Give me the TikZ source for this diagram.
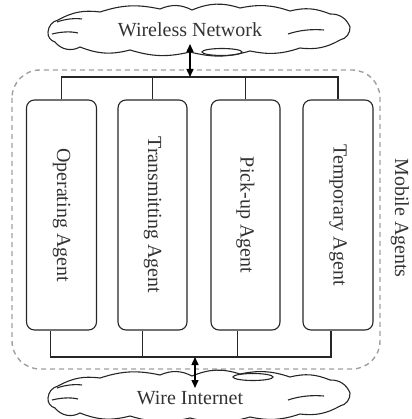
\documentclass[tikz,border=0pt]{standalone}
\usepackage{fontspec}
\setmainfont{Liberation Serif}
\usetikzlibrary{arrows.meta}
\begin{document}
\begin{tikzpicture}[x=1pt,y=-1pt,
  agent/.style={draw=black!85,line width=1.1pt,rounded corners=8pt,minimum width=70pt,minimum height=230pt,inner sep=0pt},
  lbl/.style={font=\fontsize{20}{23}\selectfont,text=black!80,inner sep=0pt},
  bus/.style={line width=1.3pt,black!85},
  cloudline/.style={line width=1.1pt,black!85},
  dbl/.style={line width=1.4pt,{Triangle[length=8pt,width=7pt]}-{Triangle[length=8pt,width=7pt]}},
  pics/netcloud/.style={code={
    \draw[cloudline] (-152,2) to[bend left=35] (-142,-10) to[bend left=18] (-100,-18)
      to[bend left=15] (-40,-21) to[bend left=25] (-8,-20) to[bend left=20] (40,-22) to[bend left=15] (90,-19)
      to[bend left=18] (130,-16) to[bend left=35] (150,-3) to[bend left=40] (140,10)
      to[bend left=18] (100,18) to[bend left=15] (50,21) to[bend left=15] (-10,22)
      to[bend left=15] (-70,20) to[bend left=18] (-120,17) to[bend left=40] (-145,12)
      to[bend left=40] cycle;
    \draw[cloudline] (-148,4) .. controls (-140,2) and (-130,1) .. (-122,3);
    \draw[cloudline] (-143,-8) .. controls (-135,-11) and (-125,-12) .. (-118,-11);
    \draw[cloudline] (88,4) .. controls (100,0) and (112,-1) .. (124,0);
  }},
]
\useasboundingbox (0,0) rectangle (411,419);
% mobile agents frame
\draw[gray!75,line width=1.4pt,dash pattern=on 5pt off 4pt,rounded corners=28pt] (12,70) rectangle (380,369);
\node[lbl,rotate=-90] (ma) at (400,218) {Mobile Agents};
% clouds
\pic at (200,30) {netcloud};
\draw[cloudline] (222,52) ellipse [x radius=20, y radius=3.5];
\node[lbl] (wn) at (190,30) {Wireless Network};
\pic at (200,396) {netcloud};
\draw[cloudline] (253,377) ellipse [x radius=20, y radius=3.5];
\node[lbl] (wi) at (190,398) {Wire Internet};
% agents
\node[agent] (b1) at (61.5,215) {};
\node[agent,minimum width=69pt] (b2) at (152.5,215) {};
\node[agent,minimum width=69pt] (b3) at (245.5,215) {};
\node[agent] (b4) at (338,215) {};
\node[lbl,rotate=-90] (t1) at (b1) {Operating Agent};
\node[lbl,rotate=-90] (t2) at (b2) {Transmitting Agent};
\node[lbl,rotate=-90] (t3) at (b3) {Pick-up Agent};
\node[lbl,rotate=-90] (t4) at (b4) {Temporary Agent};
% buses
\coordinate (tb) at (190,77);
\coordinate (bb) at (195,357);
\coordinate (wnb) at (190,44);
\coordinate (wit) at (195,388);
\draw[bus] (b1.north) -- (b1.north |- tb) -- (b4.north |- tb) -- (b4.north);
\draw[bus] (b2.north) -- (b2.north |- tb);
\draw[bus] (b3.north) -- (b3.north |- tb);
\draw[bus] ([xshift=-11pt]b1.south) -- ([xshift=-11pt]b1.south |- bb) -- ([xshift=-7pt]b4.south |- bb) -- ([xshift=-7pt]b4.south);
\draw[bus] ([xshift=-10pt]b2.south) -- ([xshift=-10pt]b2.south |- bb);
\draw[bus] ([xshift=-8pt]b3.south) -- ([xshift=-8pt]b3.south |- bb);
% arrows
\draw[dbl] (wnb) -- (tb);
\draw[dbl] (bb) -- (wit);
\end{tikzpicture}
\end{document}
